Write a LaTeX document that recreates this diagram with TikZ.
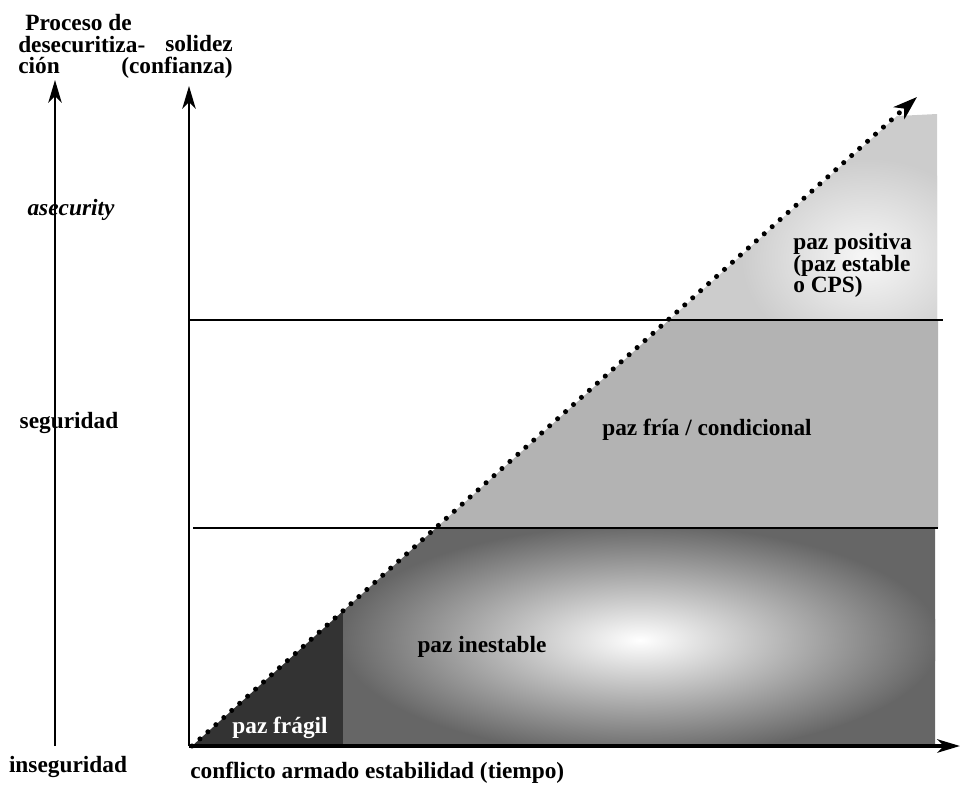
\documentclass[tikz,border=0pt]{standalone}
\usepackage{fontspec}
\setmainfont{Liberation Serif}
\usetikzlibrary{arrows.meta}

\definecolor{fragil}{HTML}{333333}
\definecolor{inestable}{HTML}{666666}
\definecolor{fria}{HTML}{B3B3B3}
\definecolor{positiva}{HTML}{CCCCCC}

\begin{document}
\begin{tikzpicture}[x=0.75pt,y=-0.75pt,
	lbl/.style={font=\fontsize{17.5}{16.2}\selectfont\bfseries,inner sep=0pt},
	axisline/.style={line width=2.2pt,-{Stealth[length=17pt,width=10pt,inset=5pt]}},
	levelline/.style={line width=1.6pt},
	trend/.style={line width=3.8pt,line cap=round,dash pattern=on 0pt off 8pt,-{Stealth[length=18pt,width=12pt,inset=5pt]}}]

\useasboundingbox (0,0) rectangle (960,789);

\coordinate (origin)	at (189,746);
\coordinate (solidez_top)	at (189,86);
\coordinate (tiempo_end)	at (960,746);
\coordinate (proceso_bot)	at (55,746);
\coordinate (proceso_top)	at (55,80);
\coordinate (trend_start)	at (192,746);
\coordinate (trend_end)	at (917,97);
\coordinate (level1_w)	at (189,320);
\coordinate (level1_e)	at (943,320);
\coordinate (level2_w)	at (193,528);
\coordinate (level2_e)	at (938,528);

% regiones
\fill [fragil] (192,746) -- (343,611) -- (343,746) -- cycle;
\begin{scope}
\clip (343,746) -- (343,611) -- (436,528) -- (935,528) -- (935,746) -- cycle;
\fill [inestable] (330,520) rectangle (940,750);
\shade [inner color=white,outer color=inestable] (640,640) ellipse [x radius=300,y radius=115];
\end{scope}
\fill [fria] (436,528) -- (669,320) -- (938,320) -- (938,528) -- cycle;
\begin{scope}
\clip (669,320) -- (897,116) -- (937,114) -- (937,320) -- cycle;
\fill [positiva] (660,100) rectangle (940,325);
\shade [inner color=white!85!positiva,outer color=positiva] (866,258) ellipse [x radius=125,y radius=100];
\end{scope}

% textos
\node (proceso_label)	at (18,14)	[lbl,anchor=north west,align=left] {\hspace{0.3em}Proceso de\\desecuritiza-\\ción};
\node (solidez_label)	at (233,35)	[lbl,anchor=north east,align=right] {solidez\\(confianza)};
\node (asecurity_label)	at (71,215)	[lbl,anchor=base] {\itshape asecurity};
\node (seguridad_label)	at (69,428)	[lbl,anchor=base] {seguridad};
\node (inseguridad_label)	at (68,772)	[lbl,anchor=base] {inseguridad};
\node (tiempo_label)	at (190,778)	[lbl,anchor=base west] {conflicto armado estabilidad (tiempo)};
\node (positiva_label)	at (793,233)	[lbl,anchor=north west,align=left] {paz positiva\\(paz estable\\o CPS)};
\node (fria_label)	at (707,435)	[lbl,anchor=base] {paz fría / condicional};
\node (inestable_label)	at (482,652)	[lbl,anchor=base] {paz inestable};
\node (fragil_label)	at (280,733)	[lbl,anchor=base,white] {paz frágil};

% lineas y ejes
\draw [levelline] (level1_w) -- (level1_e);
\draw [levelline] (level2_w) -- (level2_e);
\draw [axisline] (proceso_bot) -- (proceso_top);
\draw [axisline] (origin) -- (solidez_top);
\draw [axisline,line width=3pt] (origin) -- (tiempo_end);
\draw [trend] (trend_start) -- (trend_end);

\end{tikzpicture}
\end{document}
